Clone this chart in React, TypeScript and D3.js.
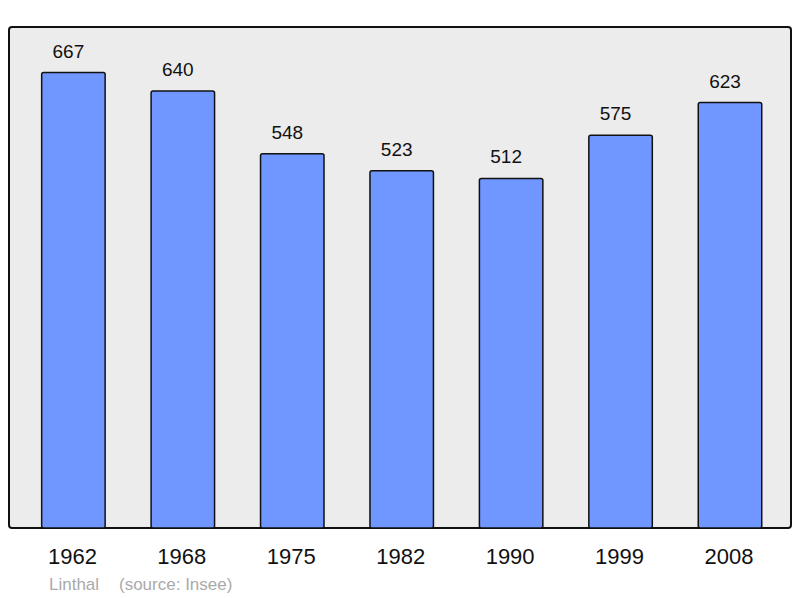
import React from "react";
import * as d3 from "d3";

const years = ["1962", "1968", "1975", "1982", "1990", "1999", "2008"];
const population = [667, 640, 548, 523, 512, 575, 623];
const placeName = "Linthal";
const sourceText = "(source: Insee)";

const W = 800;
const H = 598;
const frame = { x: 9, y: 27, w: 782, h: 501 };

export default function App() {
  const x = d3
    .scaleBand<string>()
    .domain(years)
    .range([10.7, 792.7])
    .paddingInner(0.42)
    .paddingOuter(0.283);
  const y = d3
    .scaleLinear()
    .domain([0, d3.max(population)! * 1.1])
    .range([frame.y + frame.h, frame.y]);
  const font = "'Liberation Sans', Arial, sans-serif";
  return (
    <svg
      width={W}
      height={H}
      style={{ position: "absolute", left: 0, top: 0, background: "#fff" }}
    >
      <rect
        x={frame.x}
        y={frame.y}
        width={frame.w}
        height={frame.h}
        rx={3}
        fill="#ececec"
        stroke="#111"
        strokeWidth={2}
      />
      {years.map((yr, i) => {
        const v = population[i];
        const bx = x(yr)!;
        const bw = x.bandwidth();
        const top = y(v);
        return (
          <g key={yr}>
            <rect
              x={bx}
              y={top}
              width={bw}
              height={y(0) - top}
              rx={2}
              fill="#7096ff"
              stroke="#111"
              strokeWidth={1.5}
            />
            <text
              x={bx + bw / 2 - 5}
              y={top - 15}
              textAnchor="middle"
              fontFamily={font}
              fontSize={19}
              fill="#111"
            >
              {v}
            </text>
            <text
              x={bx + bw / 2 - 1}
              y={564}
              textAnchor="middle"
              fontFamily={font}
              fontSize={22}
              fill="#111"
            >
              {yr}
            </text>
          </g>
        );
      })}
      <text x={49} y={590} fontFamily={font} fontSize={17} fill="#aaa">
        {placeName}
      </text>
      <text x={119} y={590} fontFamily={font} fontSize={17} fill="#aaa">
        {sourceText}
      </text>
    </svg>
  );
}
